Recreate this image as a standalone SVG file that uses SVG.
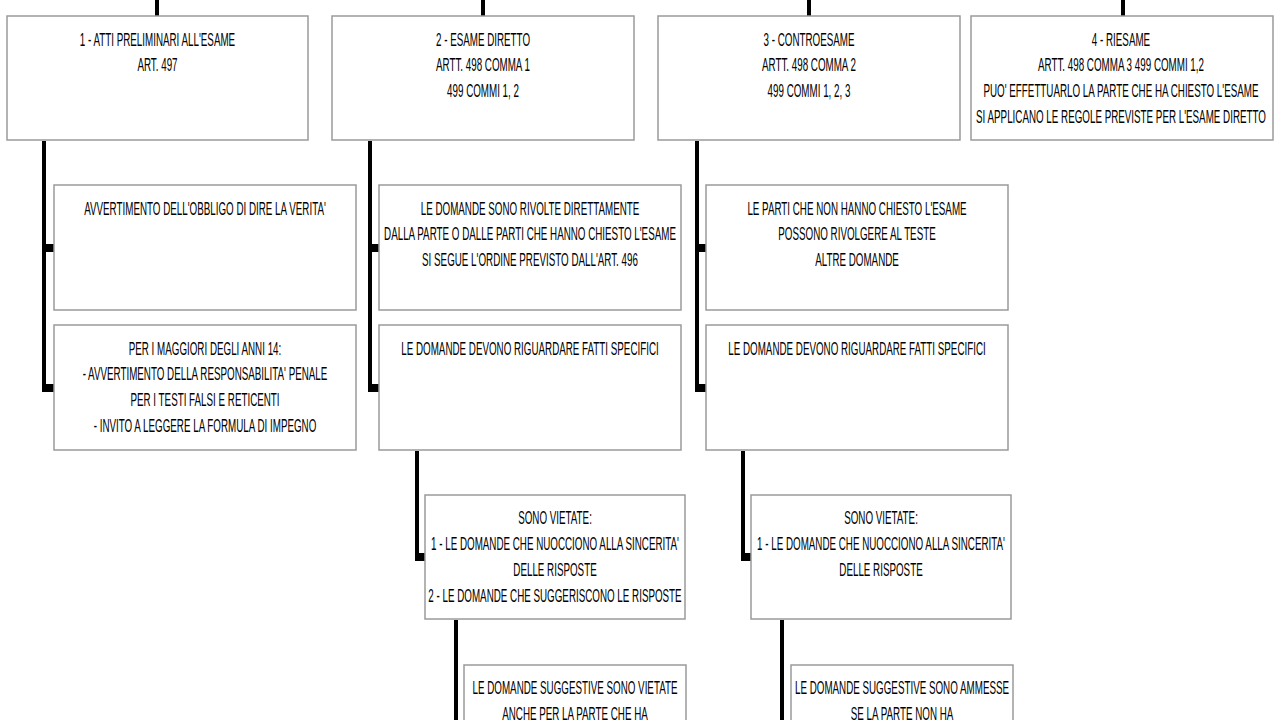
<svg xmlns="http://www.w3.org/2000/svg" width="1280" height="720" viewBox="0 0 1280 720">
<style>
.box{fill:#ffffff;stroke:#9a9a9a;stroke-width:1.5}
.t{font-family:"Liberation Sans",Arial,sans-serif;font-size:18px;fill:#000;text-anchor:middle}
.ln{fill:none;stroke:#000;stroke-width:4}
.stub{fill:#000}
</style>
<rect width="1280" height="720" fill="#ffffff"/>
<g id="connectors">
<path class="ln" d="M157,0V16M483,0V16M809,0V16M1123,0V16"/>
<path class="ln" d="M44,141V391M370,141V391M697,141V391"/>
<rect class="stub" x="44" y="244" width="10" height="8"/>
<rect class="stub" x="42" y="384" width="12" height="8"/>
<rect class="stub" x="370" y="244" width="10" height="8"/>
<rect class="stub" x="368" y="384" width="12" height="8"/>
<rect class="stub" x="697" y="244" width="10" height="8"/>
<rect class="stub" x="695" y="384" width="12" height="8"/>
<path class="ln" d="M417,451V561M743,451V561"/>
<rect class="stub" x="415" y="553" width="10" height="8"/>
<rect class="stub" x="741" y="553" width="10" height="8"/>
<path class="ln" d="M456,620V720M782,620V720"/>
</g>
<g id="n1">
<rect class="box" x="7" y="16" width="301" height="124"/>
<text class="t" transform="translate(157.5,45.5) scale(0.545,1)"><tspan x="0">1 - ATTI PRELIMINARI ALL'ESAME</tspan><tspan x="0" dy="26">ART. 497</tspan></text>
</g>
<g id="n2">
<rect class="box" x="332" y="16" width="302" height="124"/>
<text class="t" transform="translate(483,45.5) scale(0.545,1)"><tspan x="0">2 - ESAME DIRETTO</tspan><tspan x="0" dy="26">ARTT. 498 COMMA 1</tspan><tspan x="0" dy="26">499 COMMI 1, 2</tspan></text>
</g>
<g id="n3">
<rect class="box" x="658" y="16" width="302" height="124"/>
<text class="t" transform="translate(809,45.5) scale(0.545,1)"><tspan x="0">3 - CONTROESAME</tspan><tspan x="0" dy="26">ARTT. 498 COMMA 2</tspan><tspan x="0" dy="26">499 COMMI 1, 2, 3</tspan></text>
</g>
<g id="n4">
<rect class="box" x="971" y="16" width="302" height="124"/>
<text class="t" transform="translate(1121,45.5) scale(0.545,1)"><tspan x="0">4 - RIESAME</tspan><tspan x="0" dy="26">ARTT. 498 COMMA 3 499 COMMI 1,2</tspan><tspan x="0" dy="26">PUO' EFFETTUARLO LA PARTE CHE HA CHIESTO L'ESAME</tspan><tspan x="0" dy="26">SI APPLICANO LE REGOLE PREVISTE PER L'ESAME DIRETTO</tspan></text>
</g>
<g id="n1a">
<rect class="box" x="54" y="185" width="302" height="125"/>
<text class="t" transform="translate(205,214.5) scale(0.545,1)"><tspan x="0">AVVERTIMENTO DELL'OBBLIGO DI DIRE LA VERITA'</tspan></text>
</g>
<g id="n1b">
<rect class="box" x="54" y="325" width="302" height="125"/>
<text class="t" transform="translate(205,354.5) scale(0.545,1)"><tspan x="0">PER I MAGGIORI DEGLI ANNI 14:</tspan><tspan x="0" dy="26">- AVVERTIMENTO DELLA RESPONSABILITA' PENALE</tspan><tspan x="0" dy="26">PER I TESTI FALSI E RETICENTI</tspan><tspan x="0" dy="26">- INVITO A LEGGERE LA FORMULA DI IMPEGNO</tspan></text>
</g>
<g id="n2a">
<rect class="box" x="379" y="185" width="302" height="125"/>
<text class="t" transform="translate(530,214.5) scale(0.545,1)"><tspan x="0">LE DOMANDE SONO RIVOLTE DIRETTAMENTE</tspan><tspan x="0" dy="26">DALLA PARTE O DALLE PARTI CHE HANNO CHIESTO L'ESAME</tspan><tspan x="0" dy="26">SI SEGUE L'ORDINE PREVISTO DALL'ART. 496</tspan></text>
</g>
<g id="n2b">
<rect class="box" x="379" y="325" width="302" height="125"/>
<text class="t" transform="translate(530,354.5) scale(0.545,1)"><tspan x="0">LE DOMANDE DEVONO RIGUARDARE FATTI SPECIFICI</tspan></text>
</g>
<g id="n3a">
<rect class="box" x="706" y="185" width="302" height="125"/>
<text class="t" transform="translate(857,214.5) scale(0.545,1)"><tspan x="0">LE PARTI CHE NON HANNO CHIESTO L'ESAME</tspan><tspan x="0" dy="26">POSSONO RIVOLGERE AL TESTE</tspan><tspan x="0" dy="26">ALTRE DOMANDE</tspan></text>
</g>
<g id="n3b">
<rect class="box" x="706" y="325" width="302" height="125"/>
<text class="t" transform="translate(857,354.5) scale(0.545,1)"><tspan x="0">LE DOMANDE DEVONO RIGUARDARE FATTI SPECIFICI</tspan></text>
</g>
<g id="n2c">
<rect class="box" x="425" y="495" width="260" height="124"/>
<text class="t" transform="translate(555,524) scale(0.545,1)"><tspan x="0">SONO VIETATE:</tspan><tspan x="0" dy="26">1 - LE DOMANDE CHE NUOCCIONO ALLA SINCERITA'</tspan><tspan x="0" dy="26">DELLE RISPOSTE</tspan><tspan x="0" dy="26">2 - LE DOMANDE CHE SUGGERISCONO LE RISPOSTE</tspan></text>
</g>
<g id="n3c">
<rect class="box" x="751" y="495" width="260" height="124"/>
<text class="t" transform="translate(881,524) scale(0.545,1)"><tspan x="0">SONO VIETATE:</tspan><tspan x="0" dy="26">1 - LE DOMANDE CHE NUOCCIONO ALLA SINCERITA'</tspan><tspan x="0" dy="26">DELLE RISPOSTE</tspan></text>
</g>
<g id="n2d">
<rect class="box" x="464" y="665" width="222" height="124"/>
<text class="t" transform="translate(575,694) scale(0.545,1)"><tspan x="0">LE DOMANDE SUGGESTIVE SONO VIETATE</tspan><tspan x="0" dy="26">ANCHE PER LA PARTE CHE HA</tspan></text>
</g>
<g id="n3d">
<rect class="box" x="791" y="665" width="222" height="124"/>
<text class="t" transform="translate(902,694) scale(0.545,1)"><tspan x="0">LE DOMANDE SUGGESTIVE SONO AMMESSE</tspan><tspan x="0" dy="26">SE LA PARTE NON HA</tspan></text>
</g>
</svg>
